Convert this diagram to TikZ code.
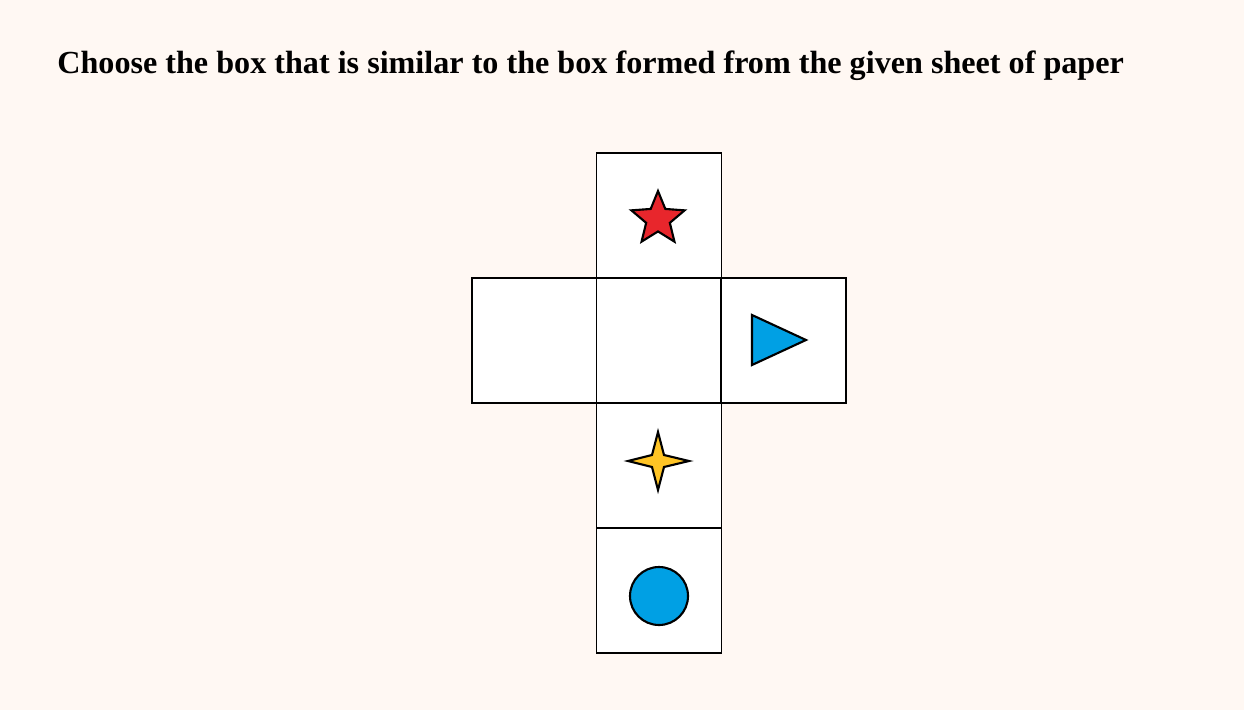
\documentclass[tikz,border=0pt]{standalone}
\usepackage{fontspec}
\setmainfont{Liberation Serif}
\usetikzlibrary{shapes.geometric}

\definecolor{paper}{RGB}{255,248,243}
\definecolor{starred}{RGB}{232,38,44}
\definecolor{shapeblue}{RGB}{0,160,228}
\definecolor{staryellow}{RGB}{255,196,37}

\tikzset{
  face/.style={draw=black, fill=white, line width=0.6pt, minimum size=2.5cm, inner sep=0pt, outer sep=0pt},
  mark outline/.style={draw=black, line width=1.2pt, line join=miter}
}

\begin{document}
\begin{tikzpicture}[x={(0.02cm,0)}, y={(0,-0.02cm)}]
  % background
  \fill[paper] (0,0) rectangle (1244,710);
  \useasboundingbox (0,0) rectangle (1244,710);

  % title
  \node[anchor=base west, inner sep=0pt] (title) at (57,73)
    {\fontsize{18.3}{22}\selectfont\bfseries Choose the box that is similar to the box formed from the given sheet of paper};

  % faces of the sheet
  \node[face] (top) at (659,215.5) {};
  \node[face] (left) at (534.5,340.5) {};
  \node[face] (mid) at (659,340.5) {};
  \node[face] (right) at (783.5,340.5) {};
  \node[face] (low) at (659,465.5) {};
  \node[face] (bottom) at (659,590.5) {};

  % red star
  \node[star, star points=5, star point ratio=2.25, minimum size=1.12cm, inner sep=0pt,
        mark outline, fill=starred] (redstar) at (658,219) {};

  % blue triangle
  \filldraw[mark outline, fill=shapeblue] (752,315) -- (806,340) -- (752,365) -- cycle;

  % yellow four-point star
  \filldraw[mark outline, fill=staryellow]
    (658,432) -- (664,455) -- (689,461) -- (664,467) -- (658,490)
    -- (652,467) -- (628,461) -- (652,455) -- cycle;

  % blue circle
  \filldraw[mark outline, fill=shapeblue] (659,596) circle (29);
\end{tikzpicture}
\end{document}
